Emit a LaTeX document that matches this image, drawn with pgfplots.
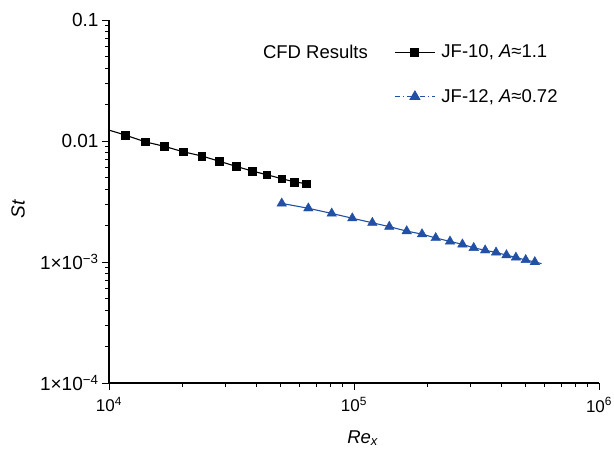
\documentclass[border=0pt]{standalone}
\usepackage{pgfplots}
\pgfplotsset{compat=1.18}
\usepackage{fontspec}
\setmainfont{Liberation Sans}
\definecolor{jfblue}{RGB}{33,80,165}
\begin{document}
\begin{tikzpicture}
\begin{axis}[
  at={(0pt,0pt)}, anchor=south west,
  scale only axis, width=490pt, height=363pt,
  xmode=log, ymode=log,
  xmin=1e4, xmax=1e6, ymin=1e-4, ymax=0.1,
  axis x line*=bottom, axis y line*=left,
  axis line style={line width=1.2pt, -},
  tick align=outside,
  major tick length=7pt, minor tick length=4pt,
  every tick/.style={black, line width=1pt},
  xtick={1e4,1e5,1e6},
  xticklabels={10\textsuperscript{4},10\textsuperscript{5},10\textsuperscript{6}},
  minor xtick={2e4,3e4,4e4,5e4,6e4,7e4,8e4,9e4,2e5,3e5,4e5,5e5,6e5,7e5,8e5,9e5},
  ytick={1e-4,1e-3,1e-2,1e-1},
  yticklabels={1×10\textsuperscript{−4},1×10\textsuperscript{−3},0.01,0.1},
  minor ytick={2e-4,3e-4,4e-4,5e-4,6e-4,7e-4,8e-4,9e-4,2e-3,3e-3,4e-3,5e-3,6e-3,7e-3,8e-3,9e-3,2e-2,3e-2,4e-2,5e-2,6e-2,7e-2,8e-2,9e-2},
  xticklabel style={font=\fontsize{17}{19}\selectfont, yshift=-4pt},
  yticklabel style={font=\fontsize{19}{21}\selectfont},
  xlabel={\textit{Re}\textsubscript{\textit{x}}},
  ylabel={\textit{St}},
  every axis x label/.style={at={(axis description cs:0.518,-0.1515)}, anchor=center, font=\fontsize{18.5}{20}\selectfont},
  every axis y label/.style={at={(axis description cs:-0.1857,0.479)}, anchor=center, rotate=90, font=\fontsize{19}{21}\selectfont},
  clip=false,
  legend style={draw=none, fill=none, at={(axis description cs:0.582,0.85)}, anchor=west,
    font=\fontsize{18.5}{20}\selectfont, inner sep=0pt, row sep=26pt, column sep=4pt, cells={anchor=west}},
  legend image code/.code={\draw[mark repeat=2,mark phase=2,#1] plot coordinates {(0pt,0pt) (20pt,0pt) (40pt,0pt)};},
]
% JF-10 line (fit through data, from the left axis)
\addplot[black, line width=1.1pt, no marks, forget plot] coordinates {
(10000,0.0123) (11620,0.01122) (14030,0.00985) (16770,0.00905) (20050,0.00816)
(23890,0.00752) (28100,0.00682) (33100,0.00616) (38500,0.00564) (44000,0.00527)
(50700,0.00488) (56900,0.00460) (63700,0.00444)};
\addplot[black, only marks, mark=square*, mark size=3.9pt, forget plot] coordinates {
(11620,0.01122) (14030,0.00985) (16770,0.00905) (20050,0.00816)
(23890,0.00752) (28100,0.00682) (33100,0.00616) (38500,0.00564) (44000,0.00527)
(50700,0.00488) (56900,0.00460) (63700,0.00444)};
% JF-12
\addplot[jfblue, line width=1.1pt, no marks, forget plot] coordinates {
(50700,0.00305) (65100,0.00278) (81100,0.00252) (98400,0.00230) (118800,0.00211)
(139300,0.00196) (164100,0.00180) (189500,0.00170) (215500,0.00158) (246500,0.00148)
(277000,0.00140) (308000,0.00131) (343000,0.00125) (380000,0.00120) (419000,0.00114)
(458000,0.00109) (502000,0.00104) (547000,0.00100) (583000,0.00097)};
\addplot[jfblue, only marks, mark=triangle*, mark size=5.5pt, forget plot] coordinates {
(50700,0.00305) (65100,0.00278) (81100,0.00252) (98400,0.00230) (118800,0.00211)
(139300,0.00196) (164100,0.00180) (189500,0.00170) (215500,0.00158) (246500,0.00148)
(277000,0.00140) (308000,0.00131) (343000,0.00125) (380000,0.00120) (419000,0.00114)
(458000,0.00109) (502000,0.00104) (547000,0.00100)};
\addlegendimage{black, line width=1.1pt, mark=square*, mark size=3.9pt}
\addlegendentry{JF-10, \textit{A}≈1.1}
\addlegendimage{jfblue, line width=1.1pt, dash pattern=on 5pt off 3pt on 1.5pt off 3pt, mark=triangle*, mark size=5.5pt, mark options={solid}}
\addlegendentry{JF-12, \textit{A}≈0.72}
\node[anchor=west, font=\fontsize{18.5}{20}\selectfont, inner sep=0pt] at (axis description cs:0.314,0.912) {CFD Results};
\end{axis}
\pgfresetboundingbox
\path[use as bounding box] (-109pt,-70pt) rectangle (505pt,383pt);
\end{tikzpicture}
\end{document}
